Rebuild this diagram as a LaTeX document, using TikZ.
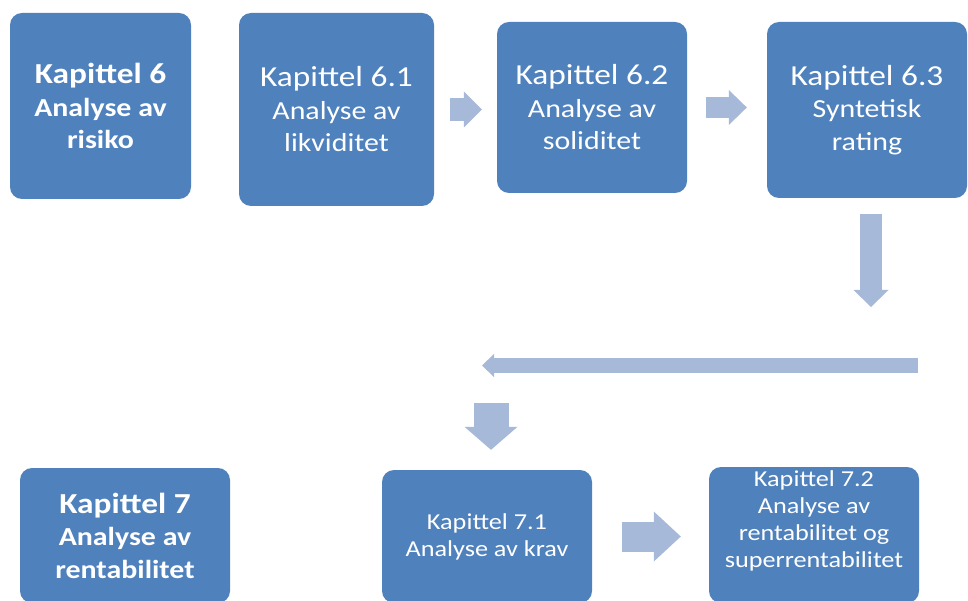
\documentclass[tikz,border=0pt]{standalone}
\usepackage{fontspec}
\setmainfont{Carlito}[FakeStretch=1.15]
\usepackage{tikz}
\usetikzlibrary{arrows.meta,positioning}
\usepackage{xcolor}
\definecolor{boxblue}{RGB}{79,129,189}
\definecolor{arrowblue}{RGB}{167,185,216}

\begin{document}
\begin{tikzpicture}[x=1pt, y=-1pt,
  box/.style={rectangle, rounded corners=12pt, fill=boxblue, text=white, align=center, inner sep=0pt},
  bigtext/.style={font=\fontsize{26}{32.5}\selectfont},
  smalltext/.style={font=\fontsize{22.8}{27}\selectfont},
  flow/.style n args={3}{draw=arrowblue, line width=#1, -{Triangle[width=#2, length=#3, line width=0pt]}}]
\useasboundingbox[fill=white] (0,0) rectangle (968,601);

% kapittel 6
\node[box, bigtext, minimum width=181pt, minimum height=186pt] (k6) at (100.5,106)
  {\bfseries{\fontsize{29}{32.5}\selectfont Kapittel 6}\\ \bfseries Analyse av\\ \bfseries risiko};
\node[box, bigtext, minimum width=195pt, minimum height=193pt] (k61) at (336.5,109.5)
  {{\fontsize{29}{32.5}\selectfont Kapittel 6.1}\\ Analyse av\\ likviditet};
\node[box, bigtext, minimum width=190pt, minimum height=171pt] (k62) at (592,107.5)
  {{\fontsize{29}{32.5}\selectfont Kapittel 6.2}\\ Analyse av\\ soliditet};
\node[box, bigtext, minimum width=200pt, minimum height=176pt] (k63) at (867,110)
  {{\fontsize{29}{32.5}\selectfont Kapittel 6.3}\\ Syntetisk\\ rating};

% kapittel 7
\node[box, bigtext, minimum width=210pt, minimum height=135pt] (k7) at (125,535.5)
  {\bfseries{\fontsize{29}{32.5}\selectfont Kapittel 7}\\ \bfseries Analyse av\\ \bfseries rentabilitet};
\node[box, smalltext, minimum width=210pt, minimum height=133pt] (k71) at (487,536.5)
  {Kapittel 7.1\\ Analyse av krav};
\node[box, minimum width=210pt, minimum height=136pt] (k72) at (814,535) {};
\node[smalltext, text=white, align=center, inner sep=0pt] (k72txt) at ([yshift=14pt]k72.center)
  {Kapittel 7.2\\ Analyse av\\ rentabilitet og\\ superrentabilitet};

\coordinate (dropR) at (871,307);
\coordinate (lineR) at (918,365.5);
\coordinate (lineL) at (482,365.5);
\coordinate (dropL) at (491,403);

\draw[flow={23pt}{36pt}{18pt}, shorten <=16pt, shorten >=15pt] (k61.east) -- (k61.east -| k62.west);
\draw[flow={21pt}{35pt}{18pt}, shorten <=19pt, shorten >=20pt] (k62.east) -- (k62.east -| k63.west);
\draw[flow={22pt}{35pt}{17pt}, shorten <=16pt] (k63.south -| dropR) -- (dropR);
\draw[flow={15pt}{23pt}{12pt}] (lineR) -- (lineL);
\draw[flow={35pt}{53pt}{23pt}, shorten >=20pt] (dropL) -- (dropL |- k71.north);
\draw[flow={30pt}{50pt}{27pt}, shorten <=30pt, shorten >=28pt] (k71.east) -- (k71.east -| k72.west);
\end{tikzpicture}
\end{document}
